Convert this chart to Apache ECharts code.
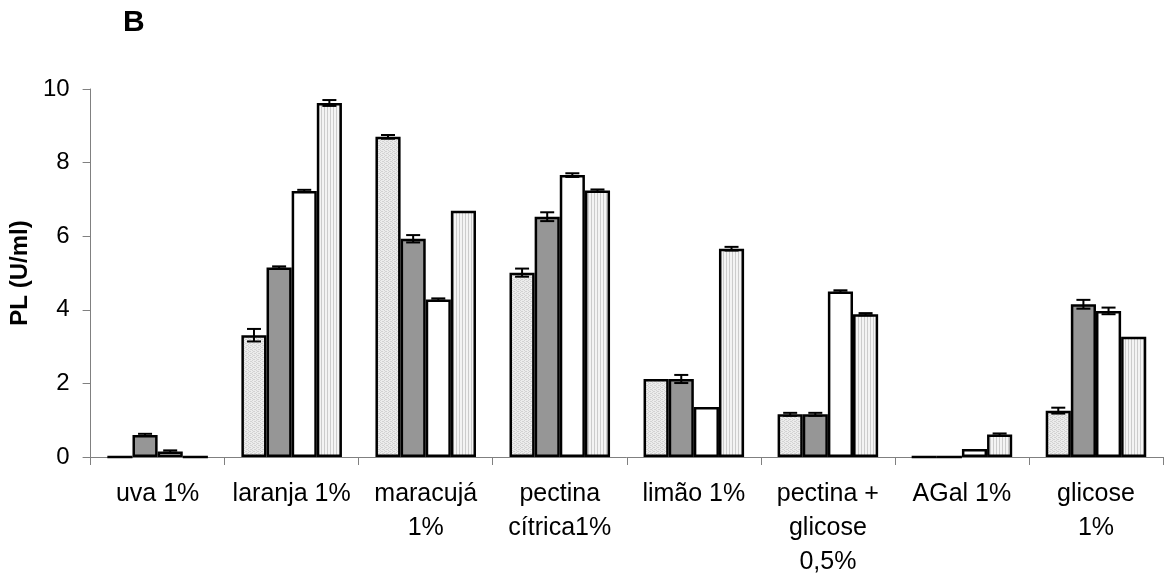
<!DOCTYPE html>
<html>
<head>
<meta charset="utf-8">
<script src="https://cdn.jsdelivr.net/npm/echarts@6/dist/echarts.min.js"></script>
<style>
html,body{margin:0;padding:0;background:#fff;}
#chart{width:1166px;height:579px;}
</style>
</head>
<body>
<div id="chart"></div>
<script>
// ---- data ----
const categories = ['uva 1%', 'laranja 1%', 'maracujá\n1%', 'pectina\ncítrica1%', 'limão 1%', 'pectina +\nglicose\n0,5%', 'AGal 1%', 'glicose\n1%'];
const s1 = [0, 3.31, 8.70, 5.01, 2.12, 1.16, 0, 1.26];
const s2 = [0.60, 5.15, 5.93, 6.53, 2.12, 1.16, 0, 4.15];
const s3 = [0.15, 7.23, 4.28, 7.66, 1.36, 4.50, 0.22, 3.97];
const s4 = [0, 9.62, 6.69, 7.24, 5.66, 3.88, 0.61, 3.27];
const e1 = [0, 0.17, 0.05, 0.11, 0, 0.04, 0, 0.08];
const e2 = [0.03, 0.03, 0.10, 0.12, 0.11, 0.04, 0, 0.12];
const e3 = [0.03, 0.03, 0.03, 0.05, 0, 0.03, 0, 0.09];
const e4 = [0, 0.08, 0, 0.03, 0.05, 0.03, 0.03, 0];
const yTicks = [0, 2, 4, 6, 8, 10];

const seriesValues = [s1, s2, s3, s4];
const seriesErrors = [e1, e2, e3, e4];

// ---- patterns ----
function dotPattern() {
  const c = document.createElement('canvas');
  c.width = 4; c.height = 4;
  const g = c.getContext('2d');
  g.fillStyle = '#ececec'; g.fillRect(0, 0, 4, 4);
  g.fillStyle = '#d2d2d2';
  g.fillRect(0, 0, 1, 1); g.fillRect(2, 1, 1, 1); g.fillRect(0, 2, 1, 1); g.fillRect(2, 3, 1, 1);
  g.fillRect(1, 3, 1, 1); g.fillRect(3, 1, 1, 1);
  return c;
}
function stripePattern() {
  const c = document.createElement('canvas');
  c.width = 3; c.height = 3;
  const g = c.getContext('2d');
  g.fillStyle = '#f4f4f4'; g.fillRect(0, 0, 3, 3);
  g.fillStyle = '#cccccc'; g.fillRect(0, 0, 1, 3);
  return c;
}
const fills = [
  { image: dotPattern(), repeat: 'repeat' },
  '#969696',
  '#ffffff',
  { image: stripePattern(), repeat: 'repeat' }
];

const GAP = 0.25;
const FONT = "'Liberation Sans', Arial, sans-serif";

const barSeries = seriesValues.map((vals, i) => ({
  type: 'bar',
  data: vals,
  barGap: '0%',
  barCategoryGap: (GAP * 100) + '%',
  itemStyle: { color: fills[i], borderColor: '#000', borderWidth: 2.5 },
  emphasis: { disabled: true },
  z: 2
}));

const errData = [];
seriesValues.forEach((vals, i) => {
  vals.forEach((v, k) => {
    if (seriesErrors[i][k] > 0) errData.push([k, v, seriesErrors[i][k], i]);
  });
});

const errSeries = {
  type: 'custom',
  data: errData,
  z: 5,
  renderItem: function (params, api) {
    const k = api.value(0), v = api.value(1), e = api.value(2), i = api.value(3);
    const band = api.size([1, 0])[0];
    const w = band * (1 - GAP) / 4;
    const c = api.coord([k, v]);
    const x = c[0] + (i - 1.5) * w;
    const yTop = api.coord([k, v + e])[1];
    const yBot = api.coord([k, v - e])[1];
    const hw = 7;
    const st = { stroke: '#000', lineWidth: 2 };
    return {
      type: 'group',
      children: [
        { type: 'line', shape: { x1: x, y1: yTop, x2: x, y2: yBot }, style: st },
        { type: 'line', shape: { x1: x - hw, y1: yTop, x2: x + hw, y2: yTop }, style: st },
        { type: 'line', shape: { x1: x - hw, y1: yBot, x2: x + hw, y2: yBot }, style: st }
      ]
    };
  }
};

const chart = echarts.init(document.getElementById('chart'), null, { renderer: 'canvas' });
chart.setOption({
  animation: false,
  backgroundColor: '#fff',
  title: {
    text: 'B', left: 118, top: 3,
    textStyle: { fontFamily: FONT, fontSize: 30, fontWeight: 'bold', color: '#000' }
  },
  grid: { left: 89, right: 3, top: 89, bottom: 121, containLabel: false },
  xAxis: {
    type: 'category',
    data: categories,
    axisLine: { lineStyle: { color: '#808080', width: 1 } },
    axisTick: { show: true, interval: 0, length: 8, lineStyle: { color: '#808080' } },
    axisLabel: { interval: 0, margin: 20, fontFamily: FONT, fontSize: 25, color: '#000', lineHeight: 34, align: 'center' }
  },
  yAxis: {
    type: 'value',
    min: yTicks[0], max: yTicks[yTicks.length - 1], interval: 2,
    name: 'PL (U/ml)',
    nameLocation: 'middle',
    nameRotate: 90,
    nameGap: 57,
    nameTextStyle: { fontFamily: FONT, fontSize: 24, fontWeight: 'bold', color: '#000' },
    axisLine: { show: true, lineStyle: { color: '#808080', width: 1 } },
    axisTick: { show: true, length: 8, lineStyle: { color: '#808080' } },
    splitLine: { show: false },
    axisLabel: { margin: 21, fontFamily: FONT, fontSize: 24, color: '#000' }
  },
  series: barSeries.concat([errSeries])
});
</script>
</body>
</html>
